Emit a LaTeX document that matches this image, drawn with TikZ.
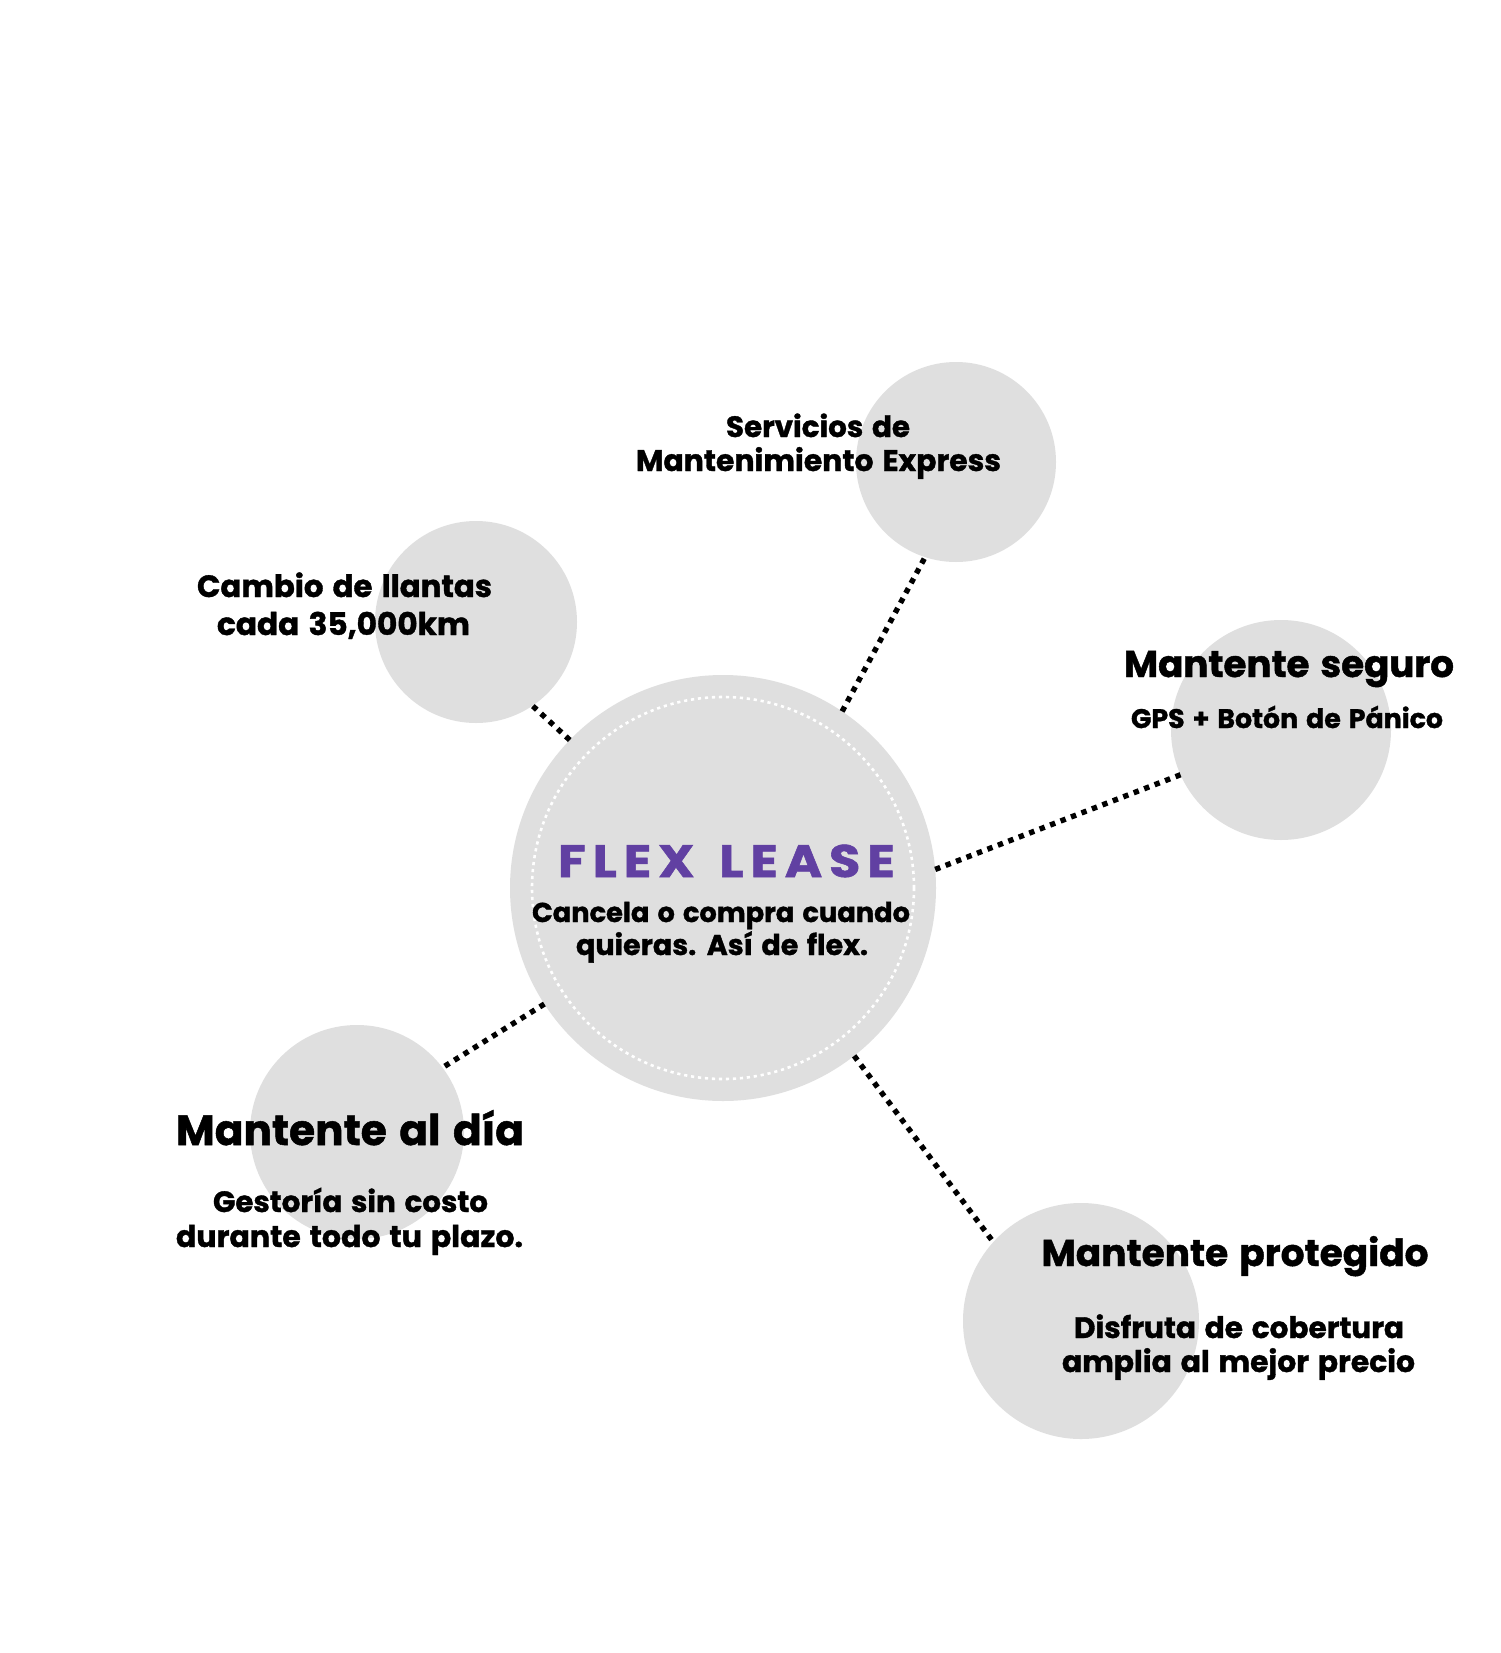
\documentclass[tikz,border=0pt]{standalone}
\usepackage{fontspec}
\setmainfont{Poppins}[BoldFeatures={FakeBold=1.2}, WordSpace=1.4]
\usepackage{graphicx}
\definecolor{cgray}{RGB}{223,223,223}
\definecolor{flexpurple}{RGB}{97,64,162}
\newcommand{\fitw}[2]{\resizebox{#1pt}{!}{\fontsize{20}{24}\selectfont\bfseries #2}}
\tikzset{
  bubble/.style={circle, fill=cgray, inner sep=0pt, outer sep=0pt, draw=none},
  link/.style={line width=2.7pt, dash pattern=on 2.7pt off 2.9pt, black},
  ring/.style={white, line width=1.3pt, dash pattern=on 1.6pt off 1.9pt},
  txt/.style={anchor=base, inner sep=0pt, outer sep=0pt, text=black},
}
\begin{document}
\begin{tikzpicture}[x=0.5pt,y=-0.5pt]
\useasboundingbox (0,0) rectangle (1500,1653);
\fill[white] (0,0) rectangle (1500,1653);
% circles
\node[bubble, minimum size=213pt] (c) at (723,888) {};
\node[bubble, minimum size=100pt] (srv) at (956,462) {};
\node[bubble, minimum size=101pt] (cam) at (476,622) {};
\node[bubble, minimum size=110pt] (seg) at (1281,730) {};
\node[bubble, minimum size=107pt] (dia) at (357,1132) {};
\node[bubble, minimum size=118pt] (pro) at (1081,1321) {};
\draw[ring] (c) circle[radius=191];
% connectors
\draw[link] (c.56.8) -- (srv.-108);
\draw[link] (c.136) -- (cam.-56);
\draw[link] (c.5.8) -- (seg.204);
\draw[link] (c.213.4) -- (dia.37.5);
\draw[link] (c.-52) -- (pro.138.7);
% texts
\node[txt] (flex) at (723,877) {\textcolor{flexpurple}{\fitw{165}{\addfontfeatures{LetterSpace=15,FakeStretch=1.12}FLEX LEASE\kern-0.15em}}};
\node[txt] (c1) at (721,922) {\fitw{189}{Cancela o compra cuando}};
\node[txt] (c2) at (722,955) {\fitw{146}{quieras. Así de flex.}};
\node[txt] (s1) at (818,437) {\fitw{92}{Servicios de}};
\node[txt] (s2) at (818.5,471) {\fitw{182.5}{Mantenimiento Express}};
\node[txt] (k1) at (344.5,597) {\fitw{147.5}{Cambio de llantas}};
\node[txt] (k2) at (343.5,635) {\fitw{126.5}{cada 35,000km}};
\node[txt] (g1) at (1289,677) {\fitw{165}{Mantente seguro}};
\node[txt] (g2) at (1287,728) {\fitw{156}{GPS + Botón de Pánico}};
\node[txt] (d1) at (350,1145) {\fitw{174}{Mantente al día}};
\node[txt] (d2) at (350.5,1212) {\fitw{137.5}{Gestoría sin costo}};
\node[txt] (d3) at (349.5,1247) {\fitw{173.5}{durante todo tu plazo.}};
\node[txt] (p1) at (1235,1266) {\fitw{193.5}{Mantente protegido}};
\node[txt] (p2) at (1239,1338) {\fitw{165}{Disfruta de cobertura}};
\node[txt] (p3) at (1238.5,1372) {\fitw{176.5}{amplia al mejor precio}};
\end{tikzpicture}
\end{document}
